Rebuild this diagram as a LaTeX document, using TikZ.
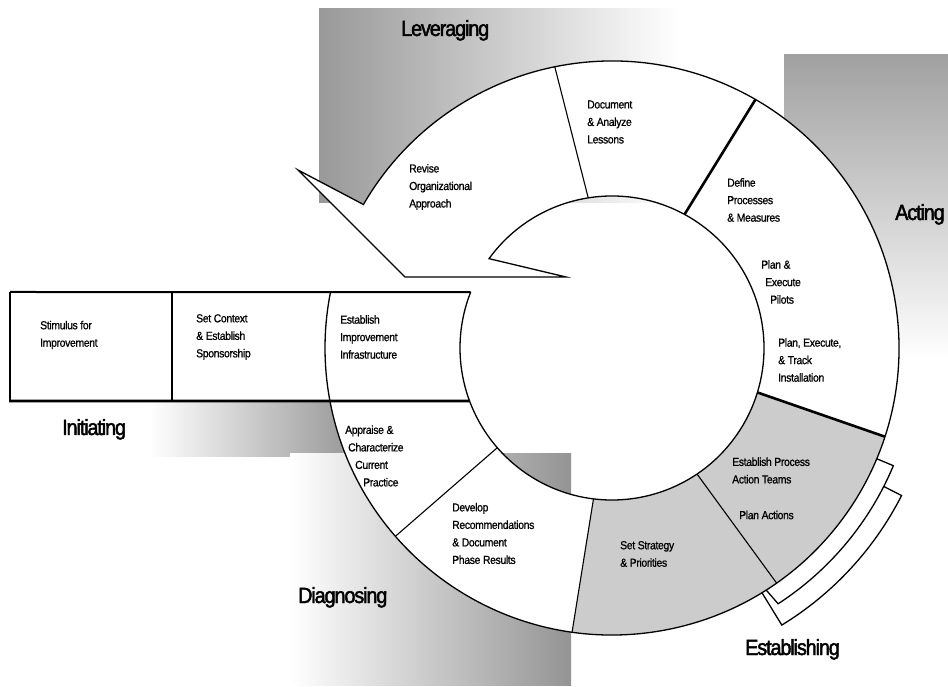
\documentclass[tikz,border=0pt]{standalone}
\usepackage{fontspec}
\setmainfont{Liberation Sans}
\newfontfamily\smallfont[FakeStretch=0.9,LetterSpace=-3,FakeBold=0.8]{Liberation Sans}
\newfontfamily\bigfont[FakeStretch=0.9,LetterSpace=-5,FakeBold=2]{Liberation Sans}
\usetikzlibrary{calc}
\begin{document}
\begin{tikzpicture}[x=1pt,y=1pt,
  ringline/.style={line width=1.3pt,line join=miter},
  thinline/.style={line width=1.1pt},
  thickline/.style={line width=2.6pt},
  lbl/.style={font=\smallfont\fontsize{11.6}{17.5}\selectfont,align=left,anchor=west,inner sep=0pt},
  phase/.style={font=\bigfont\fontsize{22}{26}\selectfont,anchor=base west,inner sep=0pt}]
\useasboundingbox (0,0) rectangle (948,686);
\coordinate (C) at (612,338);
% gradient backgrounds
\shade[left color=black!40,right color=white] (319,483) rectangle (680,677);
\shade[top color=black!37,bottom color=white] (784,326) rectangle (948,631);
\shade[left color=white,right color=black!42] (150,229) rectangle (360,285);
\shade[left color=white,right color=black!42] (290,1) rectangle (571,232);
% ring fill
\path[fill=white] ($(C)+(150:287)$) arc[start angle=150,end angle=-169.36,radius=287]
  -- ($(C)+(-159.6:152)$) arc[start angle=-159.6,end angle=144,radius=152]
  -- (566,409) -- (405,409) -- (298,516) -- cycle;
\path[fill=black!20] ($(C)+(-18:287)$) arc[start angle=-18,end angle=-98,radius=287]
  -- ($(C)+(-97:152)$) arc[start angle=-97,end angle=-17,radius=152] -- cycle;
% ring outline
\draw[ringline] ($(C)+(-169.36:287)$) arc[start angle=-169.36,end angle=150,radius=287]
  -- (298,516) -- (405,409) -- (566,409) -- ($(C)+(144:152)$)
  arc[start angle=144,end angle=-159.6,radius=152];
% dividers
\draw[thinline] ($(C)+(101.5:287)$) -- ($(C)+(99:152)$);
\draw[thickline] ($(C)+(60:287)$) -- ($(C)+(61.5:152)$);
\draw[thickline] ($(C)+(-18:287)$) -- ($(C)+(-17:152)$);
\draw[thinline] ($(C)+(-55:287)$) -- ($(C)+(-56:152)$);
\draw[thinline] ($(C)+(-98:287)$) -- ($(C)+(-97:152)$);
\draw[thinline] ($(C)+(-139:287)$) -- ($(C)+(-139:152)$);
% initiating bar
\path[fill=white] (10,394) -- ($(C)+(158.4:152)$) arc[start angle=158.4,end angle=200.4,radius=152] -- (10,285) -- cycle;
\draw[line width=2pt] (10,394) -- ($(C)+(158.4:152)$);
\draw[ringline] ($(C)+(158.4:152)$) arc[start angle=158.4,end angle=200.4,radius=152];
\draw[ringline] (10,394) -- (10,285);
\draw[thickline] (9,285) -- ($(C)+(200.4:152)$);
\draw[thinline] (172,285) -- (172,394);
\draw[ringline] ($(C)+(168.75:287)$) arc[start angle=168.75,end angle=190.64,radius=287];
% establishing brackets
\draw[ringline] ($(C)+(-22.7:287)$) -- ($(C)+(-22.7:305)$) arc[start angle=-22.7,end angle=-57,radius=305] -- ($(C)+(-57.5:287)$);
\draw[ringline] ($(C)+(-27:305)$) -- ($(C)+(-27:325)$) arc[start angle=-27,end angle=-58.5,radius=325] -- ($(C)+(-58.5:287)$);
% step labels
\node[lbl] (stim) at (40,351) {Stimulus for\\Improvement};
\node[lbl] (ctx) at (196,349) {Set Context\\\& Establish\\Sponsorship};
\node[lbl] (infra) at (340,349) {Establish\\Improvement\\Infrastructure};
\node[lbl] (doc) at (587,564) {Document\\\& Analyze\\Lessons};
\node[lbl] (rev) at (409,499) {Revise\\Organizational\\Approach};
\node[lbl] (def) at (727,486) {Define\\Processes\\\& Measures};
\node[lbl] (pil) at (761,404) {Plan \&\\\hspace*{4pt}Execute\\\hspace*{9pt}Pilots};
\node[lbl] (inst) at (778,326) {Plan, Execute,\\\& Track\\Installation};
\node[lbl] (appr) at (345,230) {Appraise \&\\\hspace*{3pt}Characterize\\\hspace*{10pt}Current\\\hspace*{18pt}Practice};
\node[lbl] (dev) at (452,152.5) {Develop\\Recommendations\\\& Document\\Phase Results};
\node[lbl] (strat) at (620,132) {Set Strategy\\\& Priorities};
\node[lbl] (team) at (732,215.5) {Establish Process\\Action Teams};
\node[lbl] (pact) at (739,171) {Plan Actions};
% phase labels
\node[phase] (lev) at (401,650) {Leveraging};
\node[phase] (act) at (895,466) {Acting};
\node[phase] (ini) at (62,251) {Initiating};
\node[phase] (dia) at (298,83) {Diagnosing};
\node[phase] (est) at (745,31) {Establishing};
\end{tikzpicture}
\end{document}
